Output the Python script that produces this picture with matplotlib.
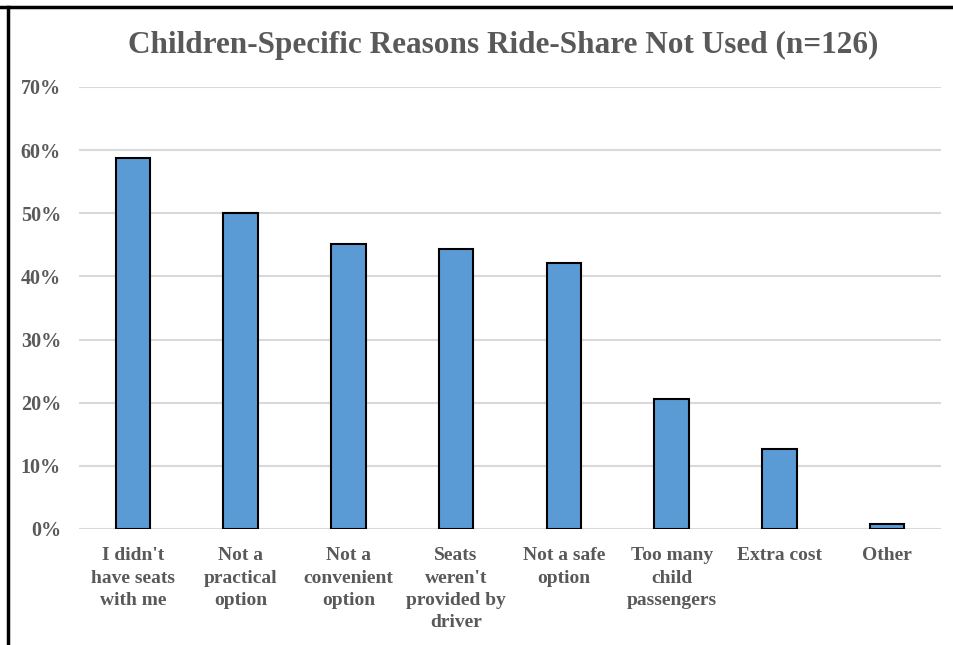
import numpy as np
import matplotlib.pyplot as plt
from matplotlib.lines import Line2D
from matplotlib.ticker import FuncFormatter

reasons = ["I didn't\nhave seats\nwith me", "Not a\npractical\noption", "Not a\nconvenient\noption",
           "Seats\nweren't\nprovided by\ndriver", "Not a safe\noption", "Too many\nchild\npassengers",
           "Extra cost", "Other"]
share = [58.7, 50.0, 45.2, 44.4, 42.1, 20.6, 12.7, 0.8]
y_ticks = [0, 10, 20, 30, 40, 50, 60, 70]

plt.rcParams['font.family'] = ['Liberation Serif', 'DejaVu Serif']
text_grey = '#595959'

fig = plt.figure(figsize=(9.54, 6.45), dpi=100)
ax = fig.add_axes([79 / 954, 1 - 529 / 645, (941 - 79) / 954, (529 - 87) / 645])

x = np.arange(len(reasons))
ax.bar(x, share, width=0.32, color='#5B9BD5', edgecolor='black', linewidth=1.5, zorder=3)

ax.set_xlim(-0.5, len(reasons) - 0.5)
ax.set_ylim(0, 70)
ax.set_yticks(y_ticks)
ax.yaxis.set_major_formatter(FuncFormatter(lambda v, p: f"{v:.0f}%"))
ax.grid(axis='y', color='#d9d9d9', linewidth=1.5, zorder=0)
for s in ax.spines.values():
    s.set_visible(False)
ax.tick_params(length=0)
ax.tick_params(axis='y', pad=13, labelsize=14.5, labelcolor=text_grey)
ax.set_xticks(x)
ax.set_xticklabels(reasons, fontsize=14, color=text_grey, fontweight='bold', linespacing=1.42, va='top')
ax.tick_params(axis='x', pad=13)
for lbl in ax.get_yticklabels():
    lbl.set_fontweight('bold')

fig.text(503 / 954, 1 - 45 / 645, "Children-Specific Reasons Ride-Share Not Used (n=126)",
         ha='center', va='center', fontsize=22.5, fontweight='bold', color=text_grey)

# frame lines along the top and left edges
fig.add_artist(Line2D([0, 1], [1 - 7 / 645, 1 - 7 / 645], color='black', linewidth=2.5))
fig.add_artist(Line2D([8 / 954, 8 / 954], [0, 1 - 7 / 645], color='black', linewidth=2.5))

fig.savefig('out.png', dpi=100)
